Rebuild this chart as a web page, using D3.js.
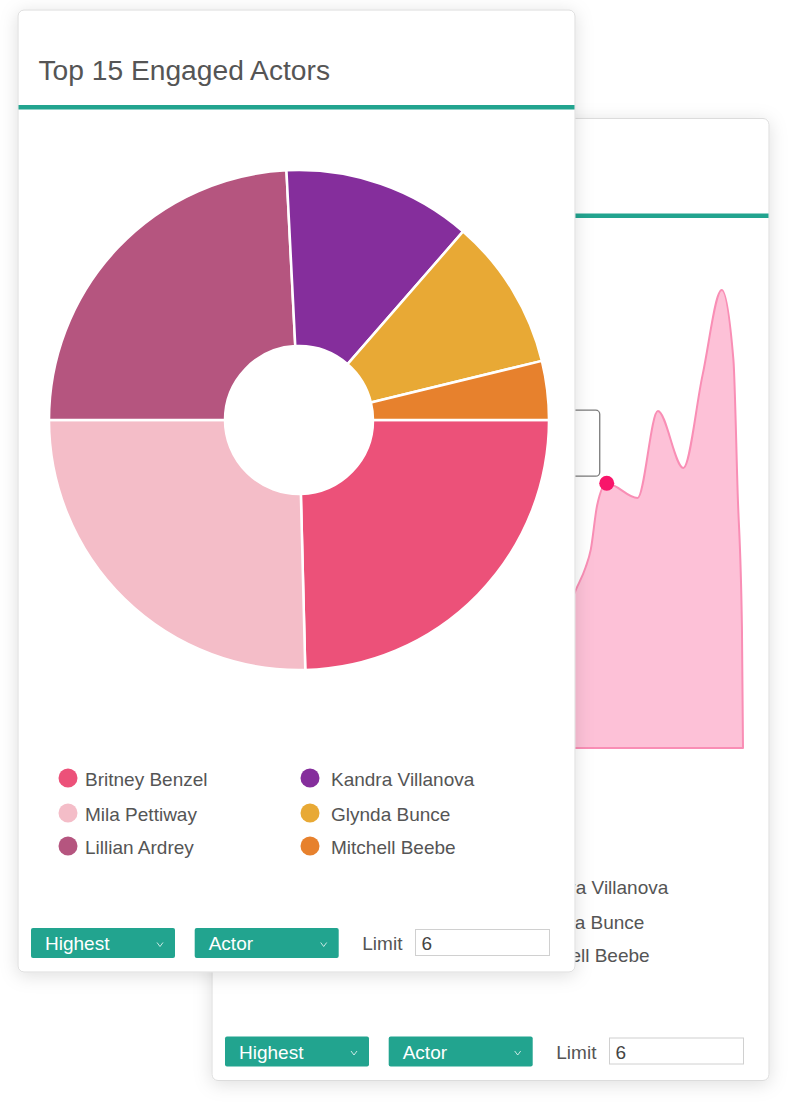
<!DOCTYPE html>
<html><head><meta charset="utf-8">
<script src="https://cdn.jsdelivr.net/npm/d3@7"></script>
<style>
html,body{margin:0;padding:0;background:#fff;}
svg{display:block;}
text{font-family:"Liberation Sans", Arial, Helvetica, sans-serif;}
</style>
</head><body>
<svg id="c" width="788" height="1107"></svg>
<script>
// ---- data ----
const chartTitle = "Top 15 Engaged Actors";
const actors = ["Britney Benzel","Mila Pettiway","Lillian Ardrey","Kandra Villanova","Glynda Bunce","Mitchell Beebe"];
const engagement = [24.6, 25.4, 24.2, 12.2, 9.8, 3.8];
const actorColors = ["#EC5179","#F4BDC8","#B5557F","#852E9C","#E8A935","#E7812D"];
// engagement trend (back card)
const trendX = [0, 3, 6, 9, 12, 15, 18, 21, 24, 27, 30, 31.5, 32.3, 33.2, 33.7, 34.3, 35.2, 38.1, 40.0, 42.4, 44.2, 46.0, 47.1, 47.5, 47.9, 48];
const trendY = [0, 9, 7, 14, 11, 18, 14, 21, 17, 25, 23, 29, 33.1, 37.7, 41.5, 50.8, 55.4, 52.3, 70.5, 58.6, 78.0, 95.8, 81.2, 53.3, 25.3, 0];
const highlightIndex = 16;
const sortLabel = "Highest";
const groupLabel = "Actor";
const limitLabel = "Limit";
const limitValue = "6";

const TEAL = "#22A48F";
const TEXT = "#555";
const CARD_W = 557, CARD_H = 962;

const svg = d3.select("#c");
const defs = svg.append("defs");
const f = defs.append("filter").attr("id","sh").attr("x","-10%").attr("y","-10%").attr("width","120%").attr("height","120%");
f.append("feDropShadow").attr("dx",0).attr("dy",3).attr("stdDeviation",9)
  .attr("flood-color","#000").attr("flood-opacity",0.13);

function drawCardFrame(g){
  g.append("rect").attr("width",CARD_W).attr("height",CARD_H).attr("rx",6)
    .attr("fill","#fff").attr("stroke","#dcdcdc").attr("stroke-width",1)
    .attr("filter","url(#sh)");
  g.append("rect").attr("x",0.5).attr("y",95).attr("width",CARD_W-1).attr("height",4.5).attr("fill",TEAL);
}

// onlyRight: the back card's left legend column is fully covered by the front card
function drawLegend(g, onlyRight){
  const cols = [50, 292];
  const textOff = [17, 21];
  const rows = [768, 803, 836];
  actors.forEach((a,i)=>{
    const col = i < 3 ? 0 : 1, row = i % 3;
    if (onlyRight && col === 0) return;
    const it = g.append("g").attr("transform",`translate(${cols[col]},${rows[row]})`);
    it.append("circle").attr("r",9.5).attr("fill",actorColors[i]);
    it.append("text").attr("x",textOff[col]).attr("y",7.5).attr("font-size",19).attr("fill",TEXT).text(a);
  });
}

function drawControls(g){
  const sel = [[13, sortLabel],[176.7, groupLabel]];
  sel.forEach(([x,label])=>{
    g.append("rect").attr("x",x).attr("y",918).attr("width",144).attr("height",30).attr("rx",2).attr("fill",TEAL);
    g.append("text").attr("x",x+14).attr("y",940).attr("font-size",19).attr("fill","#fff").text(label);
    const cx = x+129, cy = 934.5;
    g.append("path").attr("d",d3.line()([[cx-3,cy-2],[cx,cy+2],[cx+3,cy-2]]))
      .attr("fill","none").attr("stroke","rgba(255,255,255,0.75)").attr("stroke-width",1);
  });
  g.append("text").attr("x",344.3).attr("y",940).attr("font-size",19).attr("fill",TEXT).text(limitLabel);
  g.append("rect").attr("x",397.5).attr("y",919.5).attr("width",134).attr("height",26).attr("fill","#fff")
    .attr("stroke","#d0d0d0").attr("stroke-width",1);
  g.append("text").attr("x",403.5).attr("y",940).attr("font-size",19).attr("fill","#444").text(limitValue);
}

// ---- back card ----
const back = svg.append("g").attr("transform","translate(212,118.5)");
drawCardFrame(back);
{
  const x = d3.scaleLinear().domain([0,48]).range([20,531]);
  const y = d3.scaleLinear().domain([0,100]).range([629.5,151.5]);
  const pts = trendX.map((d,i)=>[d, trendY[i]]);
  const area = d3.area().x(d=>x(d[0])).y0(y(0)).y1(d=>y(d[1])).curve(d3.curveMonotoneX);
  back.append("path").attr("d",area(pts)).attr("fill","#FDC1D7").attr("stroke","#F98EB5").attr("stroke-width",2)
    .attr("stroke-linejoin","round");
  // tooltip box
  const hp = pts[highlightIndex];
  back.append("rect").attr("x",x(hp[0])-140).attr("y",y(hp[1])-73).attr("width",133).attr("height",66).attr("rx",4)
    .attr("fill","#fff").attr("stroke","#7a7a7a").attr("stroke-width",1.3);
  back.append("circle").attr("cx",x(hp[0])).attr("cy",y(hp[1])).attr("r",7.5).attr("fill","#F8156A");
}
drawLegend(back, true);
drawControls(back);

// ---- front card ----
const front = svg.append("g").attr("transform","translate(18,10)");
drawCardFrame(front);
front.append("text").attr("x",20.5).attr("y",70).attr("font-size",28.2).attr("fill",TEXT).text(chartTitle);
{
  const pie = d3.pie().sort(null).value(d=>d).startAngle(Math.PI/2).endAngle(Math.PI/2 + 2*Math.PI);
  const arc = d3.arc().innerRadius(74).outerRadius(250);
  const pg = front.append("g").attr("transform","translate(281,410)");
  pg.selectAll("path").data(pie(engagement)).join("path")
    .attr("d",arc).attr("fill",(d,i)=>actorColors[i])
    .attr("stroke","#fff").attr("stroke-width",2.5).attr("stroke-linejoin","round");
}
drawLegend(front, false);
drawControls(front);
</script>
</body></html>
